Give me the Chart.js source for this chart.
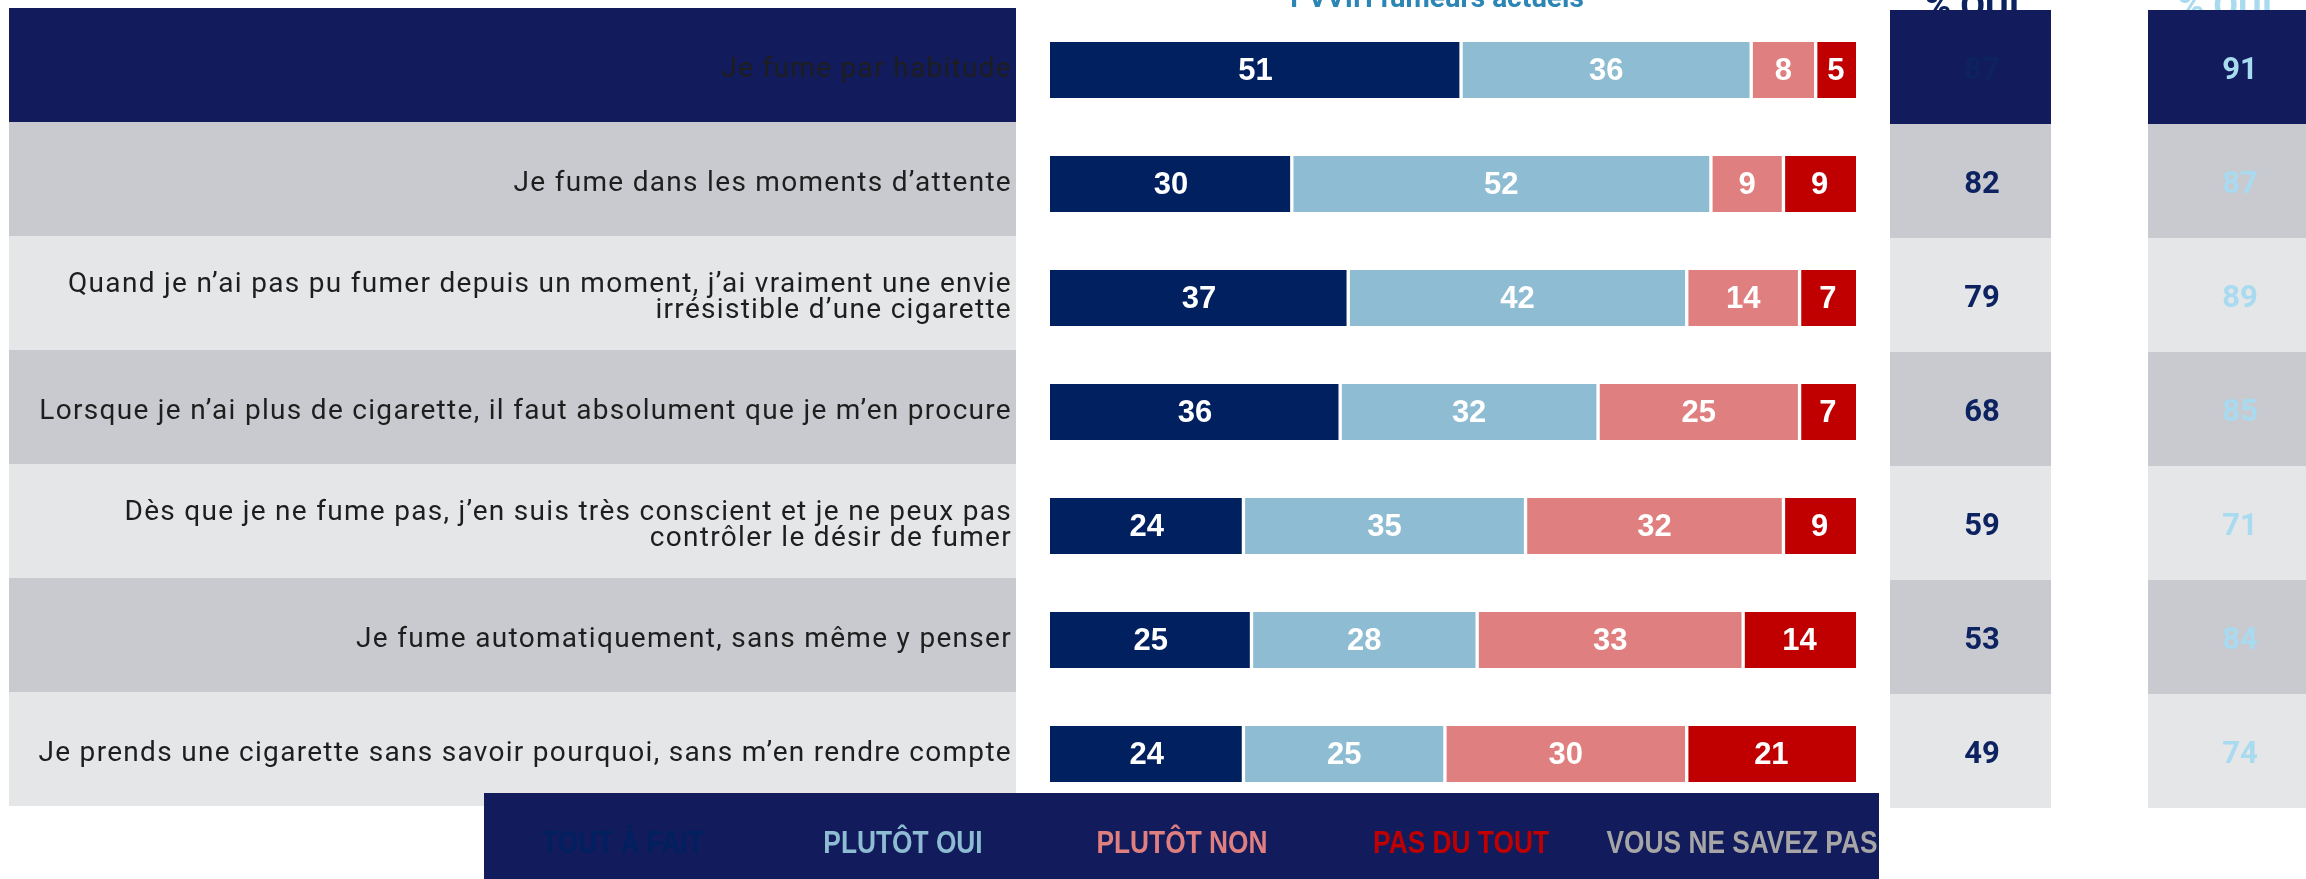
<!DOCTYPE html>
<html><head><meta charset="utf-8">
<script src="https://cdn.jsdelivr.net/npm/chart.js@4.4.1/dist/chart.umd.min.js"></script>
<style>html,body{margin:0;padding:0;background:#fff;overflow:hidden}
#wrap{position:relative;width:2306px;height:879px}
canvas{display:block}
</style></head><body><div id="wrap"><canvas id="c" width="2306" height="879"></canvas></div>
<script>
const categories = [
  "Je fume par habitude",
  "Je fume dans les moments d’attente",
  ["Quand je n’ai pas pu fumer depuis un moment, j’ai vraiment une envie", "irrésistible d’une cigarette"],
  "Lorsque je n’ai plus de cigarette, il faut absolument que je m’en procure",
  ["Dès que je ne fume pas, j’en suis très conscient et je ne peux pas", "contrôler le désir de fumer"],
  "Je fume automatiquement, sans même y penser",
  "Je prends une cigarette sans savoir pourquoi, sans m’en rendre compte"
];
const seriesNames = ["TOUT À FAIT", "PLUTÔT OUI", "PLUTÔT NON", "PAS DU TOUT", "VOUS NE SAVEZ PAS"];
const toutAFait = [51, 30, 37, 36, 24, 25, 24];
const plutotOui = [36, 52, 42, 32, 35, 28, 25];
const plutotNon = [8, 9, 14, 25, 32, 33, 30];
const pasDuTout = [5, 9, 7, 7, 9, 14, 21];
const vousNeSavezPas = [0, 0, 0, 0, 0, 0, 0];
const ouiFumeurs = [87, 82, 79, 68, 59, 53, 49];
const ouiComparaison = [91, 87, 89, 85, 71, 84, 74];
const chartTitle = "PVVIH fumeurs actuels";
const columnHeader = "% OUI";

const seriesColors = ["#00205F", "#8EBDD3", "#E07F7F", "#C00000", "#A6A6A6"];
const NAVY = "#121B5B", GRAY = "#C9CACF", LIGHT = "#E5E6E8";
const COL1 = [1890, 2051], COL2 = [2148, 2330];
const LEFTBAND = [9, 1016];

function rowColor(i) { return i === 0 ? NAVY : (i % 2 === 1 ? GRAY : LIGHT); }

const backdrop = {
  id: 'backdrop',
  beforeDraw(chart) {
    const ctx = chart.ctx, y = chart.scales.y;
    // headers (partially out of frame at top, under the column bands)
    ctx.save();
    ctx.textAlign = "center";
    ctx.textBaseline = "alphabetic";
    ctx.font = "bold 28px Roboto, sans-serif";
    ctx.fillStyle = "#2B85B5";
    ctx.fillText(chartTitle, 1437, 7);
    ctx.font = "bold 36px Roboto, sans-serif";
    ctx.fillStyle = "#0D2260";
    ctx.fillText(columnHeader, 1972, 18);
    ctx.fillStyle = "#A8DAF0";
    ctx.fillText(columnHeader, 2225, 18);
    ctx.restore();
    const step = y.getPixelForValue(1) - y.getPixelForValue(0);
    ctx.save();
    categories.forEach((c, i) => {
      const yc = y.getPixelForValue(i);
      ctx.fillStyle = rowColor(i);
      ctx.fillRect(LEFTBAND[0], yc - step / 2 - 5, LEFTBAND[1] - LEFTBAND[0], step);
      ctx.fillRect(COL1[0], yc - step / 2 - 3, COL1[1] - COL1[0], step);
      ctx.fillRect(COL2[0], yc - step / 2 - 3, COL2[1] - COL2[0], step);
    });
    ctx.restore();
    ctx.letterSpacing = "1.3px";
  },
  afterDatasetsDraw(chart) {
    const ctx = chart.ctx, y = chart.scales.y;
    ctx.letterSpacing = "0px";
    ctx.save();
    ctx.font = "bold 31px 'Liberation Sans', Arial, sans-serif";
    ctx.fillStyle = "#FFFFFF";
    ctx.textAlign = "center";
    ctx.textBaseline = "middle";
    chart.data.datasets.forEach((ds, di) => {
      const meta = chart.getDatasetMeta(di);
      meta.data.forEach((bar, i) => {
        const v = ds.data[i];
        if (!v) return;
        const cx = (bar.x + bar.base) / 2;
        ctx.fillText(String(v), cx, bar.y + 1);
      });
    });
    ctx.font = "bold 31px Roboto, sans-serif";
    categories.forEach((c, i) => {
      const yc = y.getPixelForValue(i) + 1;
      ctx.fillStyle = "#0D2260";
      ctx.fillText(String(ouiFumeurs[i]), 1982, yc);
      ctx.fillStyle = "#A8DAF0";
      ctx.fillText(String(ouiComparaison[i]), 2240, yc);
    });
    ctx.restore();
  },
  afterDraw(chart) {
    const ctx = chart.ctx;
    ctx.save();
    ctx.fillStyle = NAVY;
    ctx.fillRect(484, 793, 1879 - 484, 879 - 793);
    ctx.font = "bold 31px 'Liberation Sans', Arial, sans-serif";
    const w = ctx.measureText(seriesNames[4]).width;
    const sx = Math.min(1, 271 / w);
    ctx.textAlign = "center";
    ctx.textBaseline = "middle";
    const centers = [623, 903, 1182, 1461, 1742];
    seriesNames.forEach((n, i) => {
      ctx.save();
      ctx.translate(centers[i], 844);
      ctx.scale(sx, 1);
      ctx.fillStyle = seriesColors[i];
      ctx.fillText(n, 0, 0);
      ctx.restore();
    });
    ctx.restore();
  }
};

const seriesData = [toutAFait, plutotOui, plutotNon, pasDuTout, vousNeSavezPas];
const datasets = seriesData.map((d, i) => ({
  label: seriesNames[i],
  data: d,
  backgroundColor: seriesColors[i],
  borderColor: "#FFFFFF",
  borderWidth: { left: i === 0 ? 0 : 2, right: i === 3 ? 0 : 2, top: 0, bottom: 0 },
  borderSkipped: false,
  barThickness: 56
}));

new Chart(document.getElementById('c'), {
  type: 'bar',
  data: { labels: categories, datasets },
  options: {
    indexAxis: 'y',
    responsive: false,
    animation: false,
    devicePixelRatio: 1,
    layout: { autoPadding: false, padding: { left: 0, right: 450, top: 13, bottom: 68 } },
    plugins: { legend: { display: false }, tooltip: { enabled: false } },
    scales: {
      x: { stacked: true, min: 0, max: 100, display: false },
      y: {
        stacked: true,
        grid: { display: false, drawTicks: false },
        border: { display: false },
        afterFit(scale) {
          scale.width = 1050;
          scale.paddingTop = 0;
          scale.paddingBottom = 0;
        },
        ticks: {
          padding: 38,
          color: "#1E1E1E",
          font: { family: "Roboto, sans-serif", size: 28, weight: 400, lineHeight: 0.92 }
        }
      }
    }
  },
  plugins: [backdrop]
});
</script></body></html>
